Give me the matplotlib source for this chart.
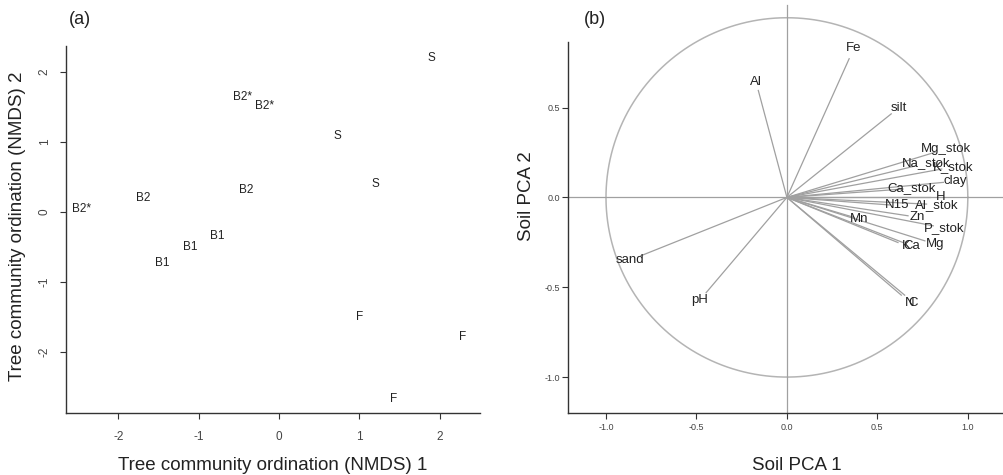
import numpy as np
import matplotlib
matplotlib.use("Agg")
import matplotlib.pyplot as plt

plt.rcParams['font.family'] = ['Liberation Sans', 'DejaVu Sans']

# (a) NMDS site scores for tree communities
site_labels = ["S", "B2*", "B2*", "S", "S", "B2", "B2", "B2*",
               "B1", "B1", "B1", "F", "F", "F"]
nmds1 = [1.89, -0.45, -0.18, 0.72, 1.20, -0.41, -1.69, -2.46,
         -0.77, -1.10, -1.45, 1.00, 2.29, 1.42]
nmds2 = [2.20, 1.64, 1.52, 1.09, 0.40, 0.31, 0.20, 0.04,
         -0.34, -0.50, -0.73, -1.50, -1.79, -2.67]
a_xticks = [-2, -1, 0, 1, 2]
a_yticks = [-2, -1, 0, 1, 2]

# (b) soil variable loadings on PCA axes 1 and 2
soil_vars = ["Fe", "Al", "silt", "Mg_stok", "Na_stok", "K_stok", "clay",
             "Ca_stok", "H", "N15", "Al_stok", "Zn", "Mn", "P_stok",
             "K", "Ca", "Mg", "N", "C", "sand", "pH"]
pc1 = [0.37, -0.17, 0.62, 0.88, 0.77, 0.92, 0.93,
       0.69, 0.85, 0.61, 0.83, 0.72, 0.40, 0.87,
       0.66, 0.69, 0.82, 0.68, 0.70, -0.87, -0.48]
pc2 = [0.83, 0.64, 0.50, 0.27, 0.19, 0.17, 0.09,
       0.05, 0.00, -0.045, -0.04, -0.11, -0.12, -0.17,
       -0.27, -0.27, -0.26, -0.585, -0.585, -0.35, -0.57]
b_ticks = [-1.0, -0.5, 0.0, 0.5, 1.0]
b_yticks = [-1.0, -0.5, 0.0, 0.5]

TXT = "#222222"
AX = "#333333"
GREY = "#a0a0a0"
W, H = 1004, 475

fig = plt.figure(figsize=(10.04, 4.75), dpi=100)


def px(x, y):
    """Pixel position (from top-left) to figure fraction."""
    return x / W, 1 - y / H


def r_style(ax):
    for s in ("top", "right"):
        ax.spines[s].set_visible(False)
    for s in ("left", "bottom"):
        ax.spines[s].set_color(AX)
        ax.spines[s].set_linewidth(1.0)
    ax.tick_params(direction="out", length=4, width=0.8, color=AX,
                   labelcolor="#444444")


# ---- panel (a) ----
ax1 = fig.add_axes([66 / W, 62 / H, 414 / W, 367 / H])
r_style(ax1)
ax1.set_xlim(-2.65, 2.50)
ax1.set_ylim(-2.87, 2.37)
ax1.set_xticks(a_xticks)
ax1.set_xticklabels([str(v) for v in a_xticks], fontsize=8.5)
ax1.set_yticks(a_yticks)
ax1.set_yticklabels([str(v) for v in a_yticks], fontsize=8.5, rotation=90, va="center")
ax1.tick_params(axis="x", pad=9)
ax1.tick_params(axis="y", pad=7)
for lab, x, y in zip(site_labels, nmds1, nmds2):
    ax1.text(x, y, lab, ha="center", va="center", fontsize=8.5, color=TXT)
fig.text(*px(273, 466), "Tree community ordination (NMDS) 1", fontsize=13.5,
         color=TXT, ha="center", va="center")
fig.text(*px(18, 226), "Tree community ordination (NMDS) 2", fontsize=13.5,
         color=TXT, rotation=90, ha="center", va="center")
fig.text(*px(80, 20), "(a)", fontsize=13, color=TXT, ha="center", va="center")

# ---- panel (b) ----
ax2 = fig.add_axes([568 / W, 62 / H, 436 / W, 371 / H])
r_style(ax2)
ax2.set_xlim(-1.21, 1.20)
ax2.set_ylim(-1.20, 0.865)
ax2.set_xticks(b_ticks)
ax2.set_xticklabels([f"{v:.1f}" for v in b_ticks], fontsize=6.5)
ax2.set_yticks(b_yticks)
ax2.set_yticklabels([f"{v:.1f}" for v in b_yticks], fontsize=6.5)
ax2.tick_params(axis="x", pad=3)
ax2.tick_params(axis="y", pad=2)

theta = np.linspace(0, 2 * np.pi, 400)
ax2.plot(np.cos(theta), np.sin(theta), color="#b4b4b4", lw=1.1, clip_on=False)
ax2.plot([0, 0], [-1.2, 1.07], color=GREY, lw=0.9, clip_on=False)
ax2.plot([-1.21, 1.2], [0, 0], color=GREY, lw=0.9, clip_on=False)
for lab, x, y in zip(soil_vars, pc1, pc2):
    ax2.plot([0, 0.93 * x], [0, 0.93 * y], color=GREY, lw=0.9)
    ax2.text(x, y, lab, ha="center", va="center", fontsize=9.5, color=TXT)
fig.text(*px(797, 465), "Soil PCA 1", fontsize=13.5, color=TXT,
         ha="center", va="center")
fig.text(*px(527, 196), "Soil PCA 2", fontsize=13.5, color=TXT,
         rotation=90, ha="center", va="center")
fig.text(*px(595, 20), "(b)", fontsize=13, color=TXT, ha="center", va="center")

fig.savefig("out.png", dpi=100, facecolor="white")
